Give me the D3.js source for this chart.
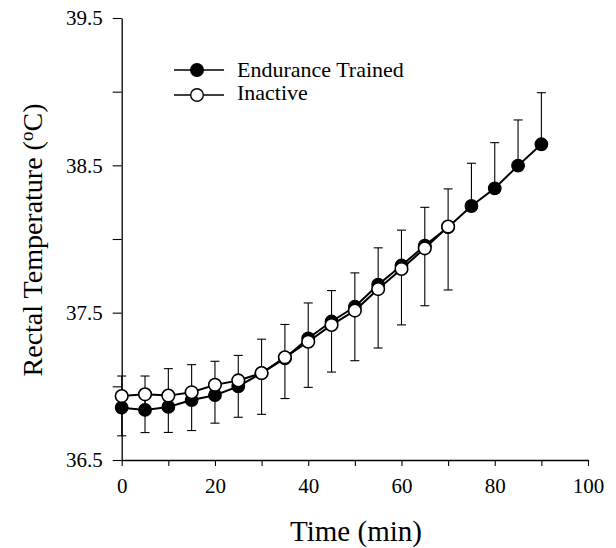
<!DOCTYPE html>
<html>
<head>
<meta charset="utf-8">
<script src="https://cdn.jsdelivr.net/npm/d3@7"></script>
<style>
  html, body { margin: 0; padding: 0; background: #fff; }
  svg { display: block; }
  text { font-family: "Liberation Serif", "Times New Roman", serif; fill: #000; }
</style>
</head>
<body>
<svg id="chart" width="616" height="548"></svg>
<script>
// ---- data ----
const timeTrained = [0, 5, 10, 15, 20, 25, 30, 35, 40, 45, 50, 55, 60, 65, 70, 75, 80, 85, 90];
const trainedMean = [36.855, 36.84, 36.86, 36.907, 36.94, 37.0, 37.09, 37.19, 37.326, 37.44, 37.54, 37.69, 37.82, 37.955, 38.08, 38.224, 38.344, 38.498, 38.643];
const trainedSD   = [0.215, 0.23, 0.26, 0.24, 0.23, 0.21, 0.23, 0.23, 0.24, 0.21, 0.23, 0.25, 0.24, 0.26, 0.26, 0.29, 0.31, 0.31, 0.35];

const timeInactive = [0, 5, 10, 15, 20, 25, 30, 35, 40, 45, 50, 55, 60, 65, 70];
const inactiveMean = [36.934, 36.946, 36.937, 36.96, 37.01, 37.04, 37.09, 37.197, 37.303, 37.417, 37.514, 37.66, 37.797, 37.937, 38.084];
const inactiveSD   = [0.27, 0.26, 0.25, 0.26, 0.26, 0.25, 0.28, 0.28, 0.31, 0.32, 0.34, 0.40, 0.38, 0.39, 0.43];

const seriesNames = ["Endurance Trained", "Inactive"];
const yTickValues = [36.5, 37.0, 37.5, 38.0, 38.5, 39.0, 39.5];
const yTickLabels = ["36.5", "", "37.5", "", "38.5", "", "39.5"];
const xTickValues = [0, 10, 20, 30, 40, 50, 60, 70, 80, 90, 100];
const xTickLabels = ["0", "", "20", "", "40", "", "60", "", "80", "", "100"];
const xTitle = "Time (min)";

// ---- chart ----
const svg = d3.select("#chart");
const x = d3.scaleLinear().domain([0, 100]).range([121.7, 588]);
const y = d3.scaleLinear().domain([36.5, 39.5]).range([460, 18]);

const xAxis = d3.axisBottom(x)
  .tickValues(xTickValues)
  .tickFormat((d, i) => xTickLabels[i])
  .tickSize(6).tickSizeOuter(0).tickPadding(12);
const yAxis = d3.axisLeft(y)
  .tickValues(yTickValues)
  .tickFormat((d, i) => yTickLabels[i])
  .tickSize(9).tickSizeOuter(0).tickPadding(10);

const gx = svg.append("g").attr("transform", `translate(0,${y(36.5)})`).call(xAxis);
const gy = svg.append("g").attr("transform", `translate(${x(0)},0)`).call(yAxis);
[gx, gy].forEach(g => {
  g.selectAll("path.domain").attr("stroke", "#000").attr("stroke-width", 1.3);
  g.selectAll(".tick line").attr("stroke", "#000").attr("stroke-width", 1.1);
  g.selectAll(".tick text").attr("font-size", 21).attr("font-family", "Liberation Serif, Times New Roman, serif").attr("fill", "#000");
});

// axis titles
svg.append("text")
  .attr("x", 356).attr("y", 541)
  .attr("text-anchor", "middle")
  .attr("font-size", 29)
  .text(xTitle);

const yt = svg.append("text")
  .attr("transform", "translate(42,240) rotate(-90)")
  .attr("text-anchor", "middle")
  .attr("font-size", 28);
yt.append("tspan").text("Rectal Temperature (");
yt.append("tspan").attr("font-size", 19).attr("dy", -9).text("o");
yt.append("tspan").attr("dy", 9).text("C)");

const trained = timeTrained.map((t, i) => ({ t, m: trainedMean[i], sd: trainedSD[i] }));
const inactive = timeInactive.map((t, i) => ({ t, m: inactiveMean[i], sd: inactiveSD[i] }));

const line = d3.line().x(d => x(d.t)).y(d => y(d.m));
const capW = 4.5;

// error bars: trained +SD (up), inactive -SD (down)
function errorBars(data, dir) {
  const g = svg.append("g").attr("stroke", "#000").attr("stroke-width", 1.1).attr("fill", "none");
  data.forEach(d => {
    const end = y(d.m + dir * d.sd);
    g.append("line").attr("x1", x(d.t)).attr("x2", x(d.t)).attr("y1", y(d.m)).attr("y2", end);
    g.append("line").attr("x1", x(d.t) - capW).attr("x2", x(d.t) + capW).attr("y1", end).attr("y2", end);
  });
}
errorBars(trained, 1);
errorBars(inactive, -1);

// lines & markers
svg.append("path").datum(trained).attr("d", line)
  .attr("fill", "none").attr("stroke", "#000").attr("stroke-width", 2);
svg.append("g").selectAll("circle").data(trained).join("circle")
  .attr("cx", d => x(d.t)).attr("cy", d => y(d.m)).attr("r", 6.3)
  .attr("fill", "#000").attr("stroke", "#000").attr("stroke-width", 1.2);

svg.append("path").datum(inactive).attr("d", line)
  .attr("fill", "none").attr("stroke", "#000").attr("stroke-width", 2);
svg.append("g").selectAll("circle").data(inactive).join("circle")
  .attr("cx", d => x(d.t)).attr("cy", d => y(d.m)).attr("r", 6.3)
  .attr("fill", "#fff").attr("stroke", "#000").attr("stroke-width", 1.6);

// legend
const legend = svg.append("g");
const rows = [{ name: seriesNames[0], fill: "#000", cy: 70, ty: 77 },
              { name: seriesNames[1], fill: "#fff", cy: 95, ty: 100 }];
rows.forEach(r => {
  legend.append("line").attr("x1", 174).attr("x2", 224).attr("y1", r.cy).attr("y2", r.cy)
    .attr("stroke", "#000").attr("stroke-width", 1.6);
  legend.append("circle").attr("cx", 197).attr("cy", r.cy).attr("r", 6.3)
    .attr("fill", r.fill).attr("stroke", "#000").attr("stroke-width", 1.4);
  legend.append("text").attr("x", 237).attr("y", r.ty).attr("font-size", 22).text(r.name);
});
</script>
</body>
</html>
